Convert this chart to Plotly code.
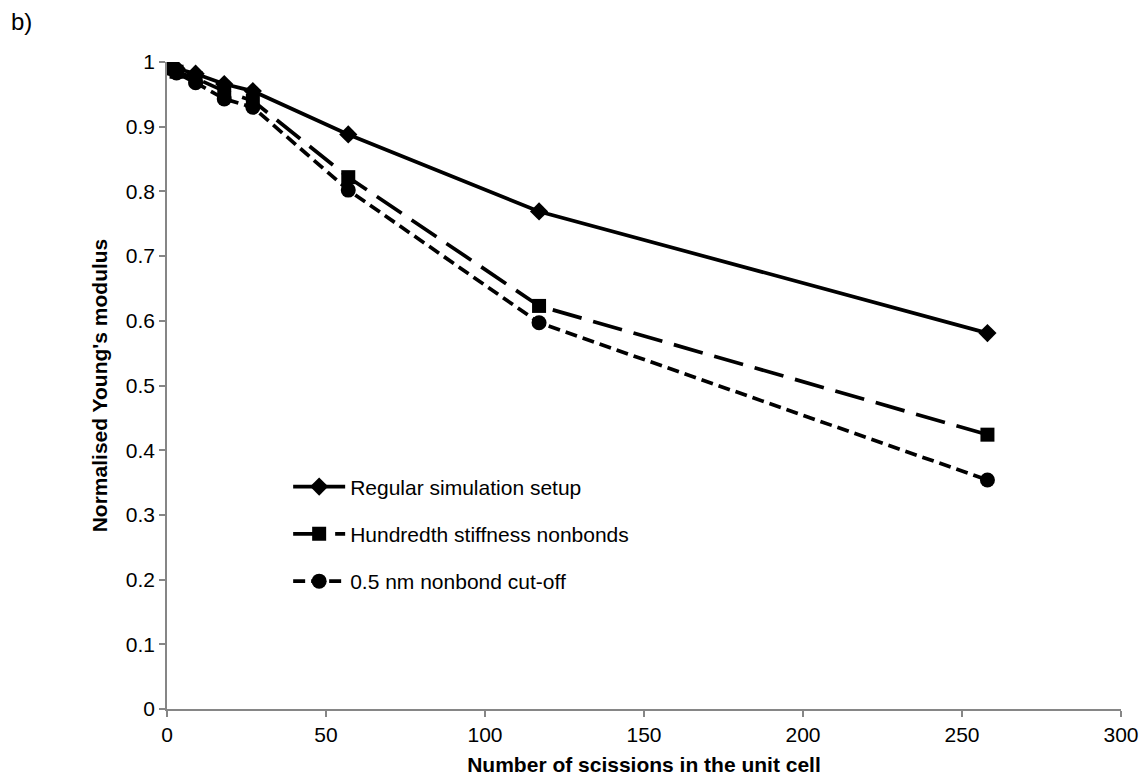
import plotly.graph_objects as go

scissions = [0, 1, 3, 9, 18, 27, 57, 117, 258]
regular = [1.000, 0.995, 0.990, 0.982, 0.966, 0.955, 0.888, 0.769, 0.581]
hundredth = [1.000, 0.995, 0.985, 0.975, 0.955, 0.940, 0.822, 0.623, 0.424]
cutoff = [1.000, 0.990, 0.983, 0.968, 0.943, 0.930, 0.802, 0.597, 0.354]

names = ["Regular simulation setup", "Hundredth stiffness nonbonds", "0.5 nm nonbond cut-off"]
x_ticks = [0, 50, 100, 150, 200, 250, 300]
y_ticks = [0, 0.1, 0.2, 0.3, 0.4, 0.5, 0.6, 0.7, 0.8, 0.9, 1]
y_tick_text = ["0", "0.1", "0.2", "0.3", "0.4", "0.5", "0.6", "0.7", "0.8", "0.9", "1"]

FONT = "Liberation Sans, Arial, sans-serif"
AXIS = "#868686"

fig = go.Figure()
fig.add_trace(go.Scatter(
    x=scissions, y=cutoff, name=names[2], mode="lines+markers", legendrank=3,
    legendgroup="c",
    line=dict(color="black", width=3.7, dash="12px,6px"),
    marker=dict(symbol="circle", size=15, color="black")))
fig.add_trace(go.Scatter(
    x=scissions, y=hundredth, name=names[1], mode="lines+markers", legendrank=2,
    legendgroup="b",
    line=dict(color="black", width=3.7, dash="30px,12px"),
    marker=dict(symbol="square", size=14, color="black")))
fig.add_trace(go.Scatter(
    x=scissions, y=regular, name=names[0], mode="lines+markers", legendrank=1,
    legendgroup="a",
    line=dict(color="black", width=3.7),
    marker=dict(symbol="diamond", size=14, color="black")))

fig.update_layout(
    width=1146, height=778,
    margin=dict(l=167, r=25, t=62, b=69, autoexpand=False),
    plot_bgcolor="white", paper_bgcolor="white",
    font=dict(family=FONT, size=21, color="black"),
    showlegend=True,
    legend=dict(
        x=0.127, y=0.375, xanchor="left", yanchor="top",
        bgcolor="rgba(0,0,0,0)", borderwidth=0,
        traceorder="grouped", tracegroupgap=17,
        itemwidth=52,
        font=dict(family=FONT, size=21, color="black")),
    xaxis=dict(
        range=[0, 300], tickvals=x_ticks, showgrid=False, zeroline=False,
        showline=True, linecolor=AXIS, linewidth=1.5, automargin=False,
        ticks="outside", ticklen=6, tickcolor=AXIS, tickwidth=1.5,
        tickfont=dict(size=21),
        title=dict(text="<b>Number of scissions in the unit cell</b>", font=dict(size=21), standoff=12)),
    yaxis=dict(
        range=[0, 1], tickvals=y_ticks, ticktext=y_tick_text, showgrid=False, zeroline=False,
        showline=True, linecolor=AXIS, linewidth=1.5, automargin=False,
        ticks="outside", ticklen=6, tickcolor=AXIS, tickwidth=1.5,
        tickfont=dict(size=21),
        title=dict(text="<b>Normalised Young's modulus</b>", font=dict(size=21), standoff=12)),
    annotations=[dict(text="b)", xref="paper", yref="paper", x=-0.166, y=1.062,
                      xanchor="left", yanchor="middle", showarrow=False,
                      font=dict(size=24, color="black"))],
)

fig.write_html("out.html")
